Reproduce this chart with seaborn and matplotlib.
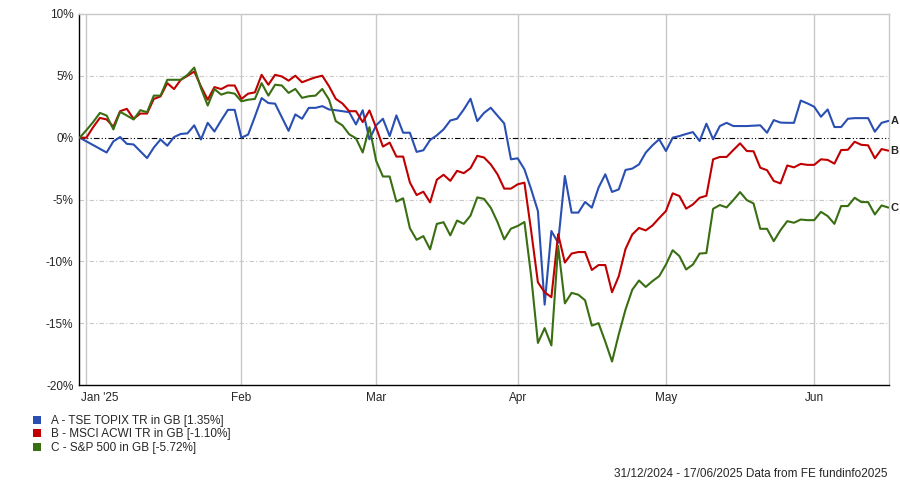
import numpy as np
import pandas as pd
import matplotlib
matplotlib.use("Agg")
import matplotlib.pyplot as plt
import matplotlib.transforms as mtransforms
from matplotlib.patches import Patch
from matplotlib.ticker import FuncFormatter
import seaborn as sns

# Cumulative performance (%) on each weekday, 31/12/2024 - 17/06/2025
dates = pd.bdate_range("2024-12-31", "2025-06-17")

topix = [
    0, -0.3, -0.6, -0.9, -1.2, -0.3, 0.05, -0.5, -0.55, -1.1,
    -1.65, -0.8, -0.15, -0.65, 0.05, 0.3, 0.35, 1.0, -0.15, 1.2,
    0.5, 1.4, 2.25, 2.25, 0.0, 0.25, 1.7, 3.2, 2.8, 2.75,
    1.65, 0.55, 1.88, 1.53, 2.41, 2.41, 2.55, 2.28, 2.22, 2.14,
    2.06, 1.07, 2.22, -0.13, 1.0, 1.53, 0.13, 1.8, 0.4, 0.4,
    -1.15, -1.02, -0.19, 0.19, 0.67, 1.39, 1.53, 2.28, 3.15, 1.34,
    2.0, 2.42, 1.78, 1.15, -1.75, -1.67, -2.56, -4.18, -5.93, -13.5,
    -7.55, -8.5, -3.1, -6.06, -6.06, -5.2, -5.66, -4.04, -2.96, -4.39,
    -4.18, -2.61, -2.5, -2.16, -1.21, -0.62, -0.13, -1.08, 0.0, 0.13,
    0.3, 0.45, -0.27, 1.13, -0.13, 0.94, 1.2, 0.94, 0.94, 0.94,
    0.97, 1.0, 0.4, 1.42, 1.22, 1.2, 1.2, 3.0, 2.77, 2.5,
    1.69, 2.28, 0.86, 0.86, 1.53, 1.58, 1.58, 1.58, 0.48, 1.2,
    1.35,
]

acwi = [
    0, 0, 0.85, 1.6, 1.47, 0.88, 2.14, 2.33, 1.52, 1.95,
    1.95, 3.13, 3.34, 4.41, 3.93, 4.68, 5.0, 5.35, 4.14, 3.07,
    4.09, 3.93, 4.22, 4.22, 3.13, 3.56, 3.66, 5.08, 4.28, 5.08,
    4.95, 4.61, 5.01, 4.48, 4.69, 4.88, 5.01, 4.16, 3.14, 2.76,
    2.14, 2.14, 1.26, 2.2, 0.8, -0.72, -0.4, -1.53, -1.53, -3.62,
    -4.64, -4.37, -5.23, -3.4, -3.0, -3.49, -2.68, -2.87, -2.47, -1.47,
    -1.6, -2.16, -2.96, -4.12, -4.12, -3.77, -3.64, -7.55, -11.7, -12.5,
    -12.9, -7.8, -10.1, -9.37, -9.25, -9.25, -10.7, -10.3, -10.3, -12.5,
    -11.2, -9.0, -7.83, -7.3, -7.5, -7.1, -6.5, -5.93, -4.5, -4.72,
    -5.74, -5.4, -4.86, -4.7, -1.75, -1.56, -1.56, -1.0, -0.46, -1.08,
    -1.1, -2.43, -2.63, -3.5, -3.7, -2.25, -2.4, -2.12, -2.2, -2.2,
    -1.75, -1.8, -2.1, -1.0, -0.98, -0.33, -0.58, -0.62, -1.67, -0.92,
    -1.05,
]

sp500 = [
    0, 0.61, 1.26, 2.0, 1.79, 0.67, 2.09, 1.79, 1.47, 2.22,
    2.06, 3.4, 3.4, 4.68, 4.68, 4.68, 5.08, 5.67, 4.0, 2.6,
    3.93, 3.48, 3.66, 3.56, 2.94, 3.07, 3.13, 4.41, 3.4, 4.28,
    4.22, 3.62, 3.94, 3.22, 3.35, 3.4, 3.94, 3.08, 1.34, 0.99,
    0.27, -0.05, -1.2, 0.85, -1.88, -3.14, -3.14, -5.17, -4.9, -7.32,
    -8.26, -7.96, -9.03, -6.97, -6.84, -7.9, -6.7, -6.97, -6.3, -4.83,
    -4.95, -5.66, -6.82, -8.22, -7.36, -7.14, -6.82, -11.2, -16.6, -15.4,
    -16.8, -8.76, -13.4, -12.55, -12.7, -13.15, -15.2, -15.0, -16.5, -18.1,
    -15.9, -13.9, -12.3, -11.55, -12.07, -11.6, -11.2, -10.26, -9.1, -9.58,
    -10.66, -10.26, -9.37, -9.33, -5.75, -5.45, -5.64, -5.05, -4.4, -5.05,
    -5.32, -7.37, -7.37, -8.37, -7.48, -6.75, -6.88, -6.62, -6.67, -6.67,
    -6.0, -6.34, -6.97, -5.53, -5.53, -4.86, -5.21, -5.21, -6.21, -5.48,
    -5.65,
]

series_names = [
    "A - TSE TOPIX TR in GB [1.35%]",
    "B - MSCI ACWI TR in GB [-1.10%]",
    "C - S&P 500 in GB [-5.72%]",
]
end_letters = ["A", "B", "C"]
month_labels = ["Jan '25", "Feb", "Mar", "Apr", "May", "Jun"]
y_ticks = [-20, -15, -10, -5, 0, 5, 10]
footer = "31/12/2024 - 17/06/2025 Data from FE fundinfo2025"

colors = ["#2a4fb2", "#c00000", "#3a6e12"]

sns.set_style("white")
plt.rcParams["font.family"] = ["Liberation Sans", "DejaVu Sans"]
plt.rcParams["font.size"] = 8

# long-form table: x is the trading-day position (chart skips weekends)
frames = []
for name, vals in zip(series_names, [topix, acwi, sp500]):
    frames.append(pd.DataFrame({"day": np.arange(len(dates)), "date": dates,
                                "value": vals, "series": name}))
df = pd.concat(frames, ignore_index=True)

fig = plt.figure(figsize=(9, 4.84), dpi=100)
ax = fig.add_axes([79 / 900, 1 - 385 / 484, 810 / 900, 371 / 484])

# grid first so lines sit on top
month_pos = [int(np.argmax(dates.month == m)) for m in [1, 2, 3, 4, 5, 6]]
for p in month_pos:
    ax.axvline(p, color="#c8c8c8", lw=1.0, zorder=0)
for yt in [-15, -10, -5, 5]:
    ax.axhline(yt, color="#c8c8c8", lw=0.8, ls=(0, (4, 2, 1, 2)), zorder=0)
ax.axhline(0, color="black", lw=0.8, ls=(0, (5, 2, 1, 2, 1, 2)), zorder=1)

sns.lineplot(data=df, x="day", y="value", hue="series", palette=colors,
             linewidth=1.5, legend=False, ax=ax, zorder=3)

ax.set_xlim(-0.1, len(dates) - 1 + 0.1)
ax.set_ylim(-20, 10)
ax.set_yticks(y_ticks)
ax.yaxis.set_major_formatter(FuncFormatter(lambda v, _: f"{int(v)}%"))
ax.set_xticks(month_pos)
ax.set_xticklabels(month_labels)
ax.set_xlabel("")
ax.set_ylabel("")
ax.tick_params(axis="y", length=0, pad=4, labelsize=8.5)
ax.tick_params(axis="x", length=3, width=0.8, color="black", pad=2, labelsize=8.5)

# first month label sits to the right of its tick, as in the source chart
first = ax.get_xticklabels()[0]
first.set_transform(first.get_transform() +
                    mtransforms.ScaledTranslation(13 / 100, 0, fig.dpi_scale_trans))

for side in ["top", "right"]:
    ax.spines[side].set_color("#c8c8c8")
    ax.spines[side].set_linewidth(1.0)
for side in ["left", "bottom"]:
    ax.spines[side].set_color("black")
    ax.spines[side].set_linewidth(1.0)

# series letters at the right end of each line
for letter, vals in zip(end_letters, [topix, acwi, sp500]):
    ax.annotate(letter, xy=(len(dates) - 1, vals[-1]), xytext=(1.5, 0),
                textcoords="offset points", va="center", ha="left",
                fontsize=8, fontweight="bold", annotation_clip=False)

handles = [Patch(facecolor=c, edgecolor="none") for c in colors]
fig.legend(handles, series_names, loc="upper left",
           bbox_to_anchor=(33 / 900, 1 - 415 / 484), frameon=False,
           handlelength=0.7, handleheight=0.7, handletextpad=0.8,
           labelspacing=0.12, fontsize=8.5, borderaxespad=0, borderpad=0)

fig.text(888 / 900, 1 - 474 / 484, footer, ha="right", va="center", fontsize=8.5)

fig.savefig("out.png", dpi=100)
